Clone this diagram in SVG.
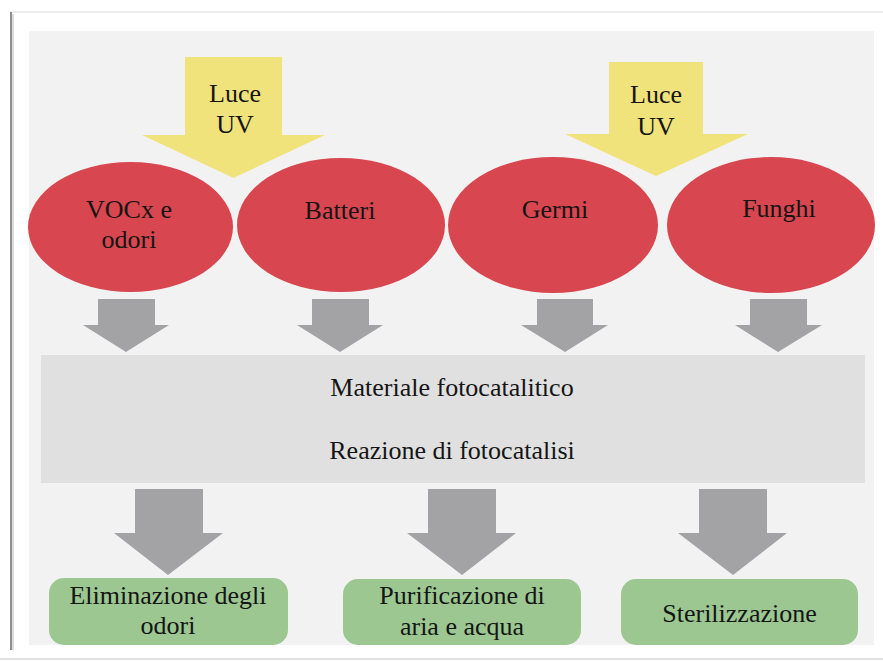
<svg xmlns="http://www.w3.org/2000/svg" width="883" height="662" viewBox="0 0 883 662">
<style>
.t{font-size:26px;fill:#151515;text-anchor:middle}
.uv{fill:#f1e37c}
.ell{fill:#d8464f}
.gar{fill:#a3a3a5}
.res{fill:#9cc791}
</style>
<rect x="0" y="0" width="883" height="662" fill="#ffffff"/>
<line x1="10" y1="12" x2="883" y2="12" stroke="#e6e6e6" stroke-width="1.5"/>
<line x1="0" y1="659" x2="883" y2="659" stroke="#d6d6d6" stroke-width="1.5"/>
<line x1="11" y1="12" x2="11" y2="650" stroke="#8f8f8f" stroke-width="2"/>
<line x1="13" y1="14" x2="13" y2="650" stroke="#dcdcdc" stroke-width="2"/>
<rect x="29" y="31" width="845" height="614" fill="#f2f2f2"/>
<rect x="41" y="355" width="824" height="128" fill="#e0e0e0"/>

<g id="connectors">
<polygon class="uv" points="185,57 282,57 282,135 325,135 233.5,178 142,135 185,135"/>
<polygon class="uv" points="609,62 703,62 703,134 748,134 656,176 565,134 609,134"/>
<polygon class="gar" points="98,299 155,299 155,325 169,325 126,352 83,325 98,325"/>
<polygon class="gar" points="312,299 369,299 369,325 383,325 340,352 297,325 312,325"/>
<polygon class="gar" points="537,299 593,299 593,325 608,325 565,352 521,325 537,325"/>
<polygon class="gar" points="750,299 807,299 807,325 822,325 778,352 735,325 750,325"/>
<polygon class="gar" points="135,489 203,489 203,533 223,533 168,575 114,533 135,533"/>
<polygon class="gar" points="428,489 496,489 496,533 516,533 462,575 407,533 428,533"/>
<polygon class="gar" points="699,489 767,489 767,533 787,533 733,575 678,533 699,533"/>
</g>

<g font-family="Liberation Serif, DejaVu Serif, serif">
<g id="luce1"><text class="t" x="235" y="102">Luce</text><text class="t" x="235" y="133">UV</text></g>
<g id="luce2"><text class="t" x="656" y="103">Luce</text><text class="t" x="656" y="135">UV</text></g>

<g id="vocx"><ellipse class="ell" cx="130.5" cy="227" rx="102.5" ry="65"/><text class="t" x="129" y="218">VOCx e</text><text class="t" x="129" y="248">odori</text></g>
<g id="batteri"><ellipse class="ell" cx="341" cy="225" rx="104" ry="67"/><text class="t" x="340" y="219">Batteri</text></g>
<g id="germi"><ellipse class="ell" cx="553" cy="225" rx="105" ry="68"/><text class="t" x="555" y="218">Germi</text></g>
<g id="funghi"><ellipse class="ell" cx="771" cy="225" rx="104" ry="68"/><text class="t" x="779" y="217">Funghi</text></g>

<g id="materiale"><text class="t" x="452" y="396">Materiale fotocatalitico</text></g>
<g id="reazione"><text class="t" x="452" y="459">Reazione di fotocatalisi</text></g>

<g id="eliminazione"><rect class="res" x="49" y="578" width="239" height="67" rx="15"/><text class="t" x="168" y="604">Eliminazione degli</text><text class="t" x="168" y="634">odori</text></g>
<g id="purificazione"><rect class="res" x="343" y="579" width="238" height="66" rx="15"/><text class="t" x="462" y="604">Purificazione di</text><text class="t" x="462" y="635">aria e acqua</text></g>
<g id="sterilizzazione"><rect class="res" x="621" y="579" width="237" height="66" rx="15"/><text class="t" x="739.5" y="622">Sterilizzazione</text></g>
</g>
</svg>
